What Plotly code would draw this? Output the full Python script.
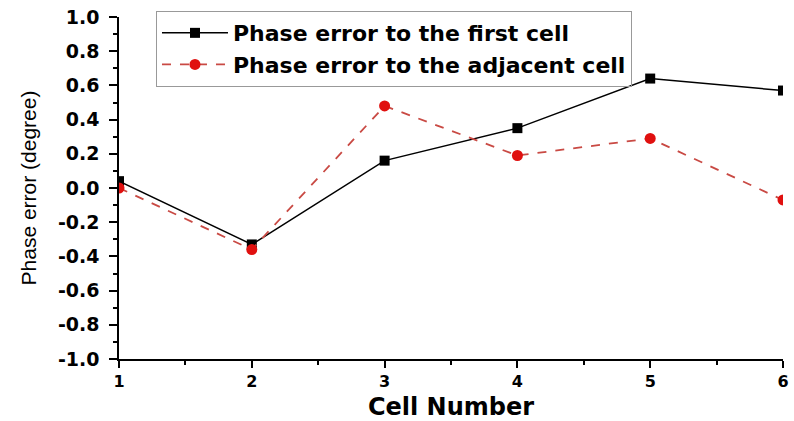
import plotly.graph_objects as go

cells = [1, 2, 3, 4, 5, 6]
first_cell = [0.04, -0.33, 0.16, 0.35, 0.64, 0.57]
adjacent_cell = [0.0, -0.36, 0.48, 0.19, 0.29, -0.07]
y_ticks = [-1.0, -0.8, -0.6, -0.4, -0.2, 0.0, 0.2, 0.4, 0.6, 0.8, 1.0]

bold_font = "DejaVu Sans"

fig = go.Figure()
fig.add_trace(go.Scatter(
    x=cells, y=first_cell, mode="lines+markers",
    name="<b>Phase error to the first cell</b>",
    line=dict(color="black", width=1.5),
    marker=dict(symbol="square", size=10, color="black"),
))
fig.add_trace(go.Scatter(
    x=cells, y=adjacent_cell, mode="lines+markers",
    name="<b>Phase error to the adjacent cell</b>",
    line=dict(color="#c94a44", width=1.8, dash="dash"),
    marker=dict(symbol="circle", size=11, color="#e0100f"),
))

fig.update_layout(
    width=794, height=421,
    margin=dict(l=119, r=11, t=14, b=62),
    paper_bgcolor="white", plot_bgcolor="white",
    showlegend=True,
    legend=dict(
        x=0.0557, y=1.0174, xanchor="left", yanchor="top",
        bgcolor="rgba(255,255,255,0)", bordercolor="#999999", borderwidth=1,
        font=dict(family=bold_font, size=22, color="black"),
        itemwidth=66, tracegroupgap=0,
    ),
)
fig.update_xaxes(
    range=[1, 6], tickvals=cells, ticktext=[f"<b>{c}</b>" for c in cells],
    automargin=False,
    showline=True, linecolor="black", linewidth=1.5,
    ticks="outside", ticklen=7, tickwidth=1.5, tickcolor="black",
    minor=dict(ticks="outside", dtick=0.5, ticklen=4, tickwidth=1.5, tickcolor="black"),
    showgrid=False, zeroline=False,
    tickfont=dict(family=bold_font, size=16, color="black"),
    title=dict(text="<b>Cell Number</b>", font=dict(family=bold_font, size=24, color="black"), standoff=28),
)
fig.update_yaxes(
    range=[-1, 1], tickvals=y_ticks, ticktext=[f"<b>{v:.1f}</b>" for v in y_ticks],
    automargin=False,
    showline=True, linecolor="black", linewidth=1.5,
    ticks="outside", ticklen=8, tickwidth=1.5, tickcolor="black",
    minor=dict(ticks="outside", dtick=0.1, ticklen=4, tickwidth=1.5, tickcolor="black"),
    showgrid=False, zeroline=False,
    ticklabelstandoff=6,
    tickfont=dict(family=bold_font, size=19, color="black"),
    title=dict(text="Phase error (degree)", font=dict(family="Liberation Sans", size=21, color="black"), standoff=16),
)

fig.write_html(
    "out.html",
    config={"displayModeBar": False},
    post_script="document.body.style.margin='0';document.body.style.overflow='hidden';",
)
